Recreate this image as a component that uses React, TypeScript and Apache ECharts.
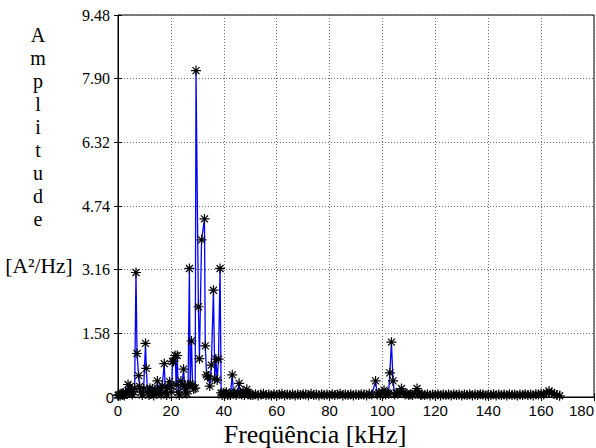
import React, { useEffect, useRef } from "react";
import * as echarts from "echarts";

// ---- data (frequency kHz, amplitude A^2/Hz) ----
const lowBand: [number, number][] = [
  [0, 0.04], [0.4, 0.06], [0.8, 0.03], [1.2, 0.08], [1.6, 0.05], [2.0, 0.1], [2.4, 0.04], [2.8, 0.12],
  [3.2, 0.08], [3.8, 0.31], [4.2, 0.14], [4.6, 0.26], [5.0, 0.1], [5.4, 0.06], [5.8, 0.14], [6.3, 0.22],
  [6.8, 3.09], [7.2, 1.08], [7.8, 0.53], [8.2, 0.26], [8.7, 0.12], [9.2, 0.05], [9.7, 0.2], [10.4, 1.33],
  [10.7, 0.71], [11.2, 0.12], [11.7, 0.05], [12.1, 0.22], [12.6, 0.1], [13.0, 0.2], [13.5, 0.04], [14.0, 0.18],
  [14.5, 0.08], [14.9, 0.4], [15.4, 0.1], [15.9, 0.22], [16.3, 0.06], [16.7, 0.27], [17.5, 0.83], [17.9, 0.12],
  [18.4, 0.05], [18.8, 0.22], [19.5, 0.38], [20.0, 0.28], [20.3, 0.12], [20.6, 0.88], [21.0, 0.89], [21.6, 1.03],
  [22.0, 0.3], [22.4, 1.03], [22.8, 0.12], [23.2, 0.05], [23.8, 0.4], [24.2, 0.3], [24.8, 0.69], [25.2, 0.25],
  [25.6, 0.12], [26.0, 0.08], [26.5, 0.3], [27.0, 3.19], [27.3, 0.32], [27.8, 1.39], [28.2, 0.3], [28.6, 0.2],
  [29.2, 0.22], [29.5, 8.1], [30.4, 2.24], [30.8, 0.95], [31.6, 3.9], [32.7, 4.42], [33.0, 1.27], [33.5, 0.55],
  [33.9, 0.5], [34.2, 0.52], [34.7, 0.27], [35.3, 0.79], [36.1, 2.65], [36.6, 0.45], [37.0, 0.94], [37.5, 0.42],
  [38.0, 0.94], [38.6, 3.19], [39.0, 0.1], [39.4, 0.05], [39.8, 0.1], [40.2, 0.06], [40.6, 0.08], [41.0, 0.12],
  [41.5, 0.05], [42.0, 0.08], [42.5, 0.05], [43.2, 0.55], [43.7, 0.08], [44.2, 0.12], [44.7, 0.05], [45.2, 0.1],
  [45.8, 0.34], [46.3, 0.1], [46.8, 0.06], [47.3, 0.15], [47.8, 0.05], [48.3, 0.1], [48.7, 0.19], [49.2, 0.06],
  [49.7, 0.08], [50.2, 0.05],
];

const midTail: [number, number][] = [
  [51, 0.05], [52, 0.07], [53, 0.04], [54, 0.06], [55, 0.08], [56, 0.05], [57, 0.06], [58, 0.04], [59, 0.07],
  [60, 0.05], [61, 0.06], [62, 0.08], [63, 0.04], [64, 0.06], [65, 0.05], [66, 0.07], [67, 0.04], [68, 0.06],
  [69, 0.05], [70, 0.07], [71, 0.06], [72, 0.04], [73, 0.08], [74, 0.05], [75, 0.06], [76, 0.04], [77, 0.07],
  [78, 0.05], [79, 0.06], [80, 0.04], [81, 0.07], [82, 0.05], [83, 0.06], [84, 0.08], [85, 0.04], [86, 0.06],
  [87, 0.05], [88, 0.07], [89, 0.04], [90, 0.06], [91, 0.05], [92, 0.07], [93, 0.06], [94, 0.04], [95, 0.08],
  [96, 0.06],
];

const peak100: [number, number][] = [
  [97.4, 0.4], [98, 0.06], [98.6, 0.1], [99.2, 0.05], [100, 0.12], [100.6, 0.17], [101.2, 0.06], [101.8, 0.1],
  [102.3, 0.08], [102.8, 0.6], [103.4, 1.36], [104.0, 0.4], [104.6, 0.06], [105.2, 0.1], [105.8, 0.08],
  [106.5, 0.12], [107.2, 0.21], [107.9, 0.1], [108.6, 0.06], [109.3, 0.08], [110, 0.05], [110.7, 0.07],
  [111.4, 0.05], [112.2, 0.09], [113.1, 0.21], [113.8, 0.08], [114.5, 0.05],
];

const highTail: [number, number][] = [
  [115, 0.06], [116, 0.05], [117, 0.07], [118, 0.04], [119, 0.06], [120, 0.05], [121, 0.07], [122, 0.04],
  [123, 0.06], [124, 0.05], [125, 0.06], [126, 0.04], [127, 0.07], [128, 0.05], [129, 0.06], [130, 0.04],
  [131, 0.06], [132, 0.05], [133, 0.07], [134, 0.04], [135, 0.06], [136, 0.05], [137, 0.07], [138, 0.06],
  [139, 0.04], [140, 0.06], [141, 0.05], [142, 0.07], [143, 0.04], [144, 0.06], [145, 0.05], [146, 0.06],
  [147, 0.04], [148, 0.07], [149, 0.05], [150, 0.06], [151, 0.04], [152, 0.06], [153, 0.05], [154, 0.07],
  [155, 0.05], [156, 0.06], [157, 0.04], [158, 0.07], [159, 0.06], [160, 0.08], [161, 0.06], [162, 0.1],
  [163, 0.15], [164, 0.1], [165, 0.08], [166, 0.05], [167, 0.03],
];

const yTickLabels = ["0", "1.58", "3.16", "4.74", "6.32", "7.90", "9.48"];
const yTitleLetters = ["A", "m", "p", "l", "i", "t", "u", "d", "e"];
const yUnit = "[A²/Hz]";
const xTitle = "Freqüência [kHz]";

const STAR =
  "path://M4.4,0L5.6,0L5.6,10L4.4,10Z M0,4.4L10,4.4L10,5.6L0,5.6Z " +
  "M1.92,1.08L8.92,8.08L8.08,8.92L1.08,1.92Z M8.08,1.08L8.92,1.92L1.92,8.92L1.08,8.08Z";

const SERIF = "Liberation Serif";
const SANS = "Liberation Sans";

export default function App() {
  const ref = useRef<HTMLDivElement>(null);
  useEffect(() => {
    document.body.style.margin = "0";
    document.body.style.overflow = "hidden";
    const chart = echarts.init(ref.current!, null, { renderer: "svg", width: 596, height: 448 });
    const data = [...lowBand, ...midTail, ...peak100, ...highTail];
    chart.setOption({
      animation: false,
      backgroundColor: "#fff",
      grid: {
        left: 118, right: 2, top: 15, bottom: 51, show: true, borderColor: "#000", borderWidth: 1,
        outerBoundsMode: "none", containLabel: false,
      },
      xAxis: [
        {
          type: "value", min: 0, max: 180, interval: 20, position: "bottom",
          axisLine: { show: true, lineStyle: { color: "#000", width: 1 } },
          axisTick: { show: true, inside: true, length: 4, lineStyle: { color: "#000" } },
          axisLabel: { color: "#000", fontFamily: SANS, fontSize: 15, margin: 6, alignMaxLabel: "right" },
          splitLine: { show: true, lineStyle: { color: "#666", type: [1, 2], width: 1 } },
        },
        {
          type: "value", min: 0, max: 180, interval: 20, position: "top",
          axisLine: { show: true, lineStyle: { color: "#000", width: 1 } },
          axisTick: { show: true, inside: true, length: 4, lineStyle: { color: "#000" } },
          axisLabel: { show: false }, splitLine: { show: false },
        },
      ],
      yAxis: [
        {
          type: "value", min: 0, max: 9.48, interval: 1.58, position: "left",
          axisLine: { show: true, lineStyle: { color: "#000", width: 1 } },
          axisTick: { show: true, inside: true, length: 4, lineStyle: { color: "#000" } },
          axisLabel: {
            color: "#000", margin: 8, fontFamily: SERIF, fontSize: 16,
            formatter: (v: number) => {
              const i = Math.round(v / 1.58);
              const s = yTickLabels[i] ?? "";
              return i === 0 ? "{z|" + s + "}" : s;
            },
            rich: {
              z: { fontFamily: SANS, fontSize: 15, color: "#000", padding: [0, -4, 0, 0] },
            },
          },
          splitLine: { show: true, lineStyle: { color: "#666", type: [1, 2], width: 1 } },
        },
        {
          type: "value", min: 0, max: 9.48, interval: 1.58, position: "right",
          axisLine: { show: true, lineStyle: { color: "#000", width: 1 } },
          axisTick: { show: true, inside: true, length: 4, lineStyle: { color: "#000" } },
          axisLabel: { show: false }, splitLine: { show: false },
        },
      ],
      series: [
        {
          type: "line",
          xAxisIndex: 0,
          yAxisIndex: 0,
          data,
          showAllSymbol: true,
          symbol: STAR,
          symbolSize: 10,
          symbolKeepAspect: true,
          itemStyle: { color: "#000" },
          lineStyle: { color: "#0000ff", width: 1.3 },
          z: 3,
        },
      ],
      graphic: [
        {
          type: "text",
          x: 38, y: 23,
          style: {
            text: yTitleLetters.join("\n"),
            font: "20px Liberation Serif",
            fill: "#000",
            textAlign: "center",
            lineHeight: 23.1,
          },
        },
        {
          type: "text",
          x: 39, y: 266,
          style: {
            text: yUnit,
            font: "21.5px Liberation Serif",
            fill: "#000",
            textAlign: "center",
            textVerticalAlign: "middle",
          },
        },
        {
          type: "text",
          x: 315, y: 434,
          style: {
            text: xTitle,
            font: "26px Liberation Serif",
            fill: "#000",
            textAlign: "center",
            textVerticalAlign: "middle",
          },
        },
      ],
    });
    return () => chart.dispose();
  }, []);
  return <div ref={ref} style={{ width: 596, height: 448 }} />;
}
